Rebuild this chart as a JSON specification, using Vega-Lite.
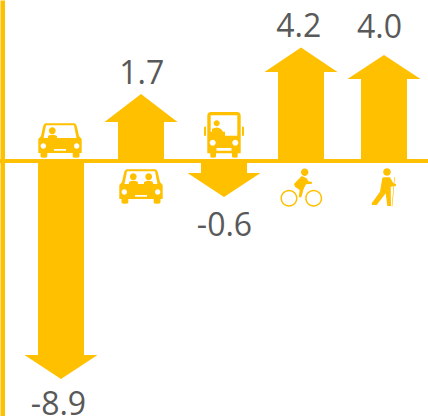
{"$schema":"https://vega.github.io/schema/vega-lite/v6.json","width":428,"height":416,"autosize":{"type":"none"},"padding":0,"background":"white","config":{"view":{"stroke":null}},"data":{"values":[{"mode":"Car, driver alone","value":"-8.9","shaft":-9.02},{"mode":"Car, shared","value":"1.7","shaft":1.81},{"mode":"Bus","value":"-0.6","shaft":-0.56},{"mode":"Bicycle","value":"4.2","shaft":4.14},{"mode":"Walking","value":"4.0","shaft":3.81}]},"encoding":{"x":{"field":"mode","type":"nominal","axis":null,"sort":null,"scale":{"type":"point","padding":0,"domain":["Car, driver alone","Car, shared","Bus","Bicycle","Walking"],"range":[61,384]}}},"layer":[{"mark":{"type":"rule","color":"#FFC000","strokeWidth":3},"encoding":{"x":{},"y":{"datum":0,"type":"quantitative","scale":{"domain":[-11.86,7.488],"nice":false,"zero":false},"axis":{"title":null,"labels":false,"ticks":false,"grid":false,"domain":true,"domainColor":"#FFC000","domainWidth":4.5,"offset":-2.25}}}},{"mark":{"type":"bar","color":"#FFC000","width":46,"xOffset":{"expr":"datum.mode=='Bus'?1.5:datum.mode=='Bicycle'?-2.25:datum.mode=='Car, shared'?-0.75:0"}},"encoding":{"y":{"field":"shaft","type":"quantitative","stack":null},"y2":{"datum":0}}},{"mark":{"type":"point","filled":true,"stroke":null,"opacity":1,"color":"#FFC000","xOffset":{"expr":"datum.mode=='Bus'?1.5:datum.mode=='Bicycle'?-2.25:datum.mode=='Car, shared'?-0.75:0"}},"encoding":{"y":{"field":"shaft","type":"quantitative"},"size":{"value":4},"shape":{"field":"mode","type":"nominal","legend":null,"scale":{"domain":["Car, driver alone","Car, shared","Bus","Bicycle","Walking"],"range":["M-36.5,0L-23,0L-23,-1L23,-1L23,0L36.5,0L0,24Z","M-36.5,0L-23,0L-23,1L23,1L23,0L36.5,0L0,-28Z","M-36.5,0L-23,0L-23,-1L23,-1L23,0L36.5,0L0,24Z","M-36.5,0L-23,0L-23,1L23,1L23,0L36.5,0L0,-24.5Z","M-36.5,0L-23,0L-23,1L23,1L23,0L36.5,0L0,-24Z"]}}}},{"mark":{"type":"point","filled":true,"stroke":null,"opacity":1,"color":"#FFC000","xOffset":{"expr":"datum.mode=='Bus'?1.5:datum.mode=='Bicycle'?-2.25:datum.mode=='Car, shared'?-0.75:0"}},"encoding":{"y":{"datum":0,"type":"quantitative"},"size":{"value":4},"shape":{"field":"mode","type":"nominal","legend":null,"scale":{"domain":["Car, driver alone","Car, shared","Bus","Bicycle","Walking"],"range":["M-15,-37.7L13,-37.7Q15,-37.7 16,-34L18,-25L20.7,-22L20.7,-8L18.5,-8L18.5,-4.5Q18.5,-3.3 15,-3.3Q11.7,-3.3 11.7,-4.5L11.7,-8L-13.7,-8L-13.7,-4.5Q-13.7,-3.3 -17,-3.3Q-20.5,-3.3 -20.5,-4.5L-20.5,-8L-22.7,-8L-22.7,-22L-20,-25L-18,-34Q-17,-37.7 -15,-37.7ZM-15,-35.8L-17.5,-23L15.5,-23L13,-35.8ZM-12.1,-30.3A3.4,3.4 0 1 1 -5.3,-30.3A3.4,3.4 0 1 1 -12.1,-30.3ZM-13,-23L-13,-25Q-8.7,-27.5 -4,-25L-4,-23ZM-20.4,-15A2.7,2.7 0 1 0 -15,-15A2.7,2.7 0 1 0 -20.4,-15ZM13,-15A2.7,2.7 0 1 0 18.4,-15A2.7,2.7 0 1 0 13,-15ZM-7,-12L-7,-10.3L5,-10.3L5,-12Z","M-14,8.3L14,8.3Q16,8.3 17,12L19,21L21.7,24L21.7,38L19.5,38L19.5,41.5Q19.5,42.7 16,42.7Q12.7,42.7 12.7,41.5L12.7,38L-12.7,38L-12.7,41.5Q-12.7,42.7 -16,42.7Q-19.5,42.7 -19.5,41.5L-19.5,38L-21.7,38L-21.7,24L-19,21L-17,12Q-16,8.3 -14,8.3ZM-14,10.2L-16.5,23L16.5,23L14,10.2ZM-11.1,15.7A3.4,3.4 0 1 1 -4.3,15.7A3.4,3.4 0 1 1 -11.1,15.7ZM-12,23L-12,21Q-7.7,18.5 -3,21L-3,23ZM4.3,15.7A3.4,3.4 0 1 1 11.1,15.7A3.4,3.4 0 1 1 4.3,15.7ZM3,25L3,21Q7.7,18.5 12,21L12,25ZM-19.4,31A2.7,2.7 0 1 0 -14,31A2.7,2.7 0 1 0 -19.4,31ZM14,31A2.7,2.7 0 1 0 19.4,31A2.7,2.7 0 1 0 14,31ZM-6,34L-6,35.7L6,35.7L6,34Z","M-13,-49L13,-49Q16.7,-49 16.7,-45L16.7,-7.7L13.7,-7.7L13.7,-4.5Q13.7,-3.3 11,-3.3Q8,-3.3 8,-4.5L8,-7.7L-8,-7.7L-8,-4.5Q-8,-3.3 -11,-3.3Q-13.7,-3.3 -13.7,-4.5L-13.7,-7.7L-16.7,-7.7L-16.7,-45Q-16.7,-49 -13,-49ZM18,-34.3L20,-34.3L20,-25.3L18,-25.3ZM-20,-34.3L-18,-34.3L-18,-25.3L-20,-25.3ZM-13.3,-45.7L-13.3,-29.3L1,-29.3L1,-25.3L13.3,-25.3L13.3,-45.7ZM-10.3,-37.7A3,3 0 1 1 -4.3,-37.7A3,3 0 1 1 -10.3,-37.7ZM-12,-29.3L-12,-32Q-7.3,-35 -3,-32L-1,-29.3ZM-14.3,-18.3A3,3 0 1 0 -8.3,-18.3A3,3 0 1 0 -14.3,-18.3ZM8.3,-18.3A3,3 0 1 0 14.3,-18.3A3,3 0 1 0 8.3,-18.3ZM-7.5,-13L-7.5,-10.3L7.5,-10.3L7.5,-13Z","M-20.5,37.3A8.5,8.5 0 1 1 -3.5,37.3A8.5,8.5 0 1 1 -20.5,37.3ZM-19,37.3A7,7 0 1 0 -5,37.3A7,7 0 1 0 -19,37.3ZM4.2,37.3A8.5,8.5 0 1 1 21.2,37.3A8.5,8.5 0 1 1 4.2,37.3ZM5.7,37.3A7,7 0 1 0 19.7,37.3A7,7 0 1 0 5.7,37.3ZM0,11.3A3.7,3.7 0 1 1 7.4,11.3A3.7,3.7 0 1 1 0,11.3ZM0.7,15L5.7,17.3L7.3,20.3L11,21L11,22.7L5,23.3L3,27.3L2.3,29L0.3,36.3L-2.3,36.3L-1.3,29L-6,25.7L-7,23Z","M-0.8,11A3.8,3.8 0 1 1 6.8,11A3.8,3.8 0 1 1 -0.8,11ZM-0.7,16.3L6,16.3L9.3,22.3L12,23L12,25L6.7,25.7L7,45L3.3,45L1.7,32.3L-7.3,44L-12,44L-12.3,42.3L-4,30.7L-1.7,17.3ZM10.3,16.3L11,16.3L8.3,45.7L7.7,45.7Z"]}}}},{"transform":[{"filter":"datum.value=='-8.9'"}],"mark":{"type":"text","font":"Open Sans","fontSize":32,"color":"#595959","baseline":"alphabetic","align":"center","dy":60,"dx":-2.5},"encoding":{"y":{"field":"shaft","type":"quantitative"},"text":{"field":"value","type":"nominal"}}},{"transform":[{"filter":"datum.value=='1.7'"}],"mark":{"type":"text","font":"Open Sans","fontSize":32,"color":"#595959","baseline":"alphabetic","align":"center","dy":-38},"encoding":{"y":{"field":"shaft","type":"quantitative"},"text":{"field":"value","type":"nominal"}}},{"transform":[{"filter":"datum.value=='-0.6'"}],"mark":{"type":"text","font":"Open Sans","fontSize":32,"color":"#595959","baseline":"alphabetic","align":"center","dy":63,"dx":2},"encoding":{"y":{"field":"shaft","type":"quantitative"},"text":{"field":"value","type":"nominal"}}},{"transform":[{"filter":"datum.value=='4.2'"}],"mark":{"type":"text","font":"Open Sans","fontSize":32,"color":"#595959","baseline":"alphabetic","align":"center","dy":-34.5,"dx":-4.5},"encoding":{"y":{"field":"shaft","type":"quantitative"},"text":{"field":"value","type":"nominal"}}},{"transform":[{"filter":"datum.value=='4.0'"}],"mark":{"type":"text","font":"Open Sans","fontSize":32,"color":"#595959","baseline":"alphabetic","align":"center","dy":-41.5,"dx":-4.5},"encoding":{"y":{"field":"shaft","type":"quantitative"},"text":{"field":"value","type":"nominal"}}}],"resolve":{"scale":{"shape":"independent"}}}
